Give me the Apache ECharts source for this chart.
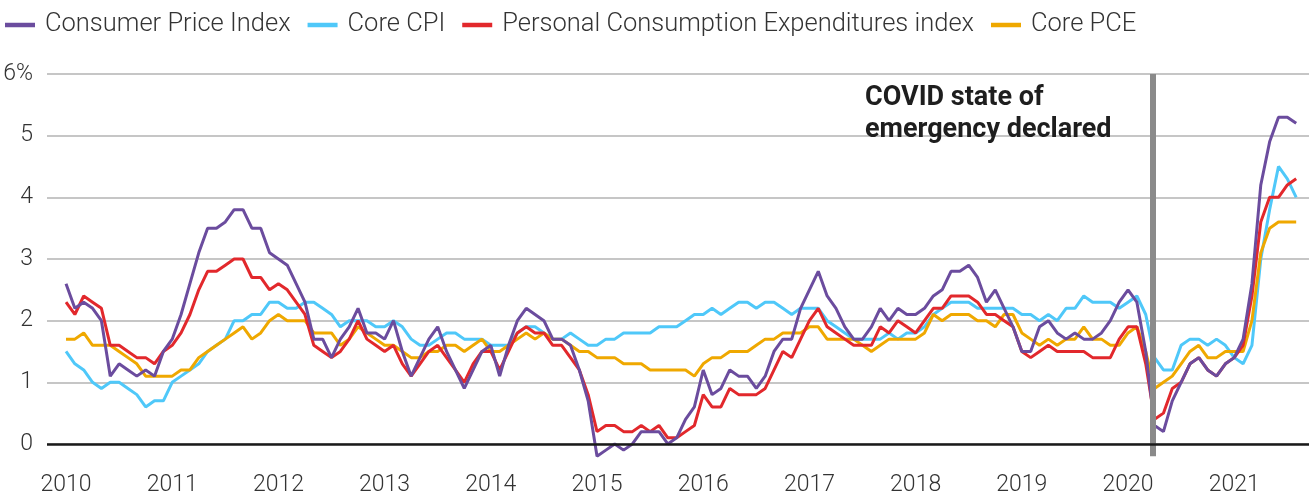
<!DOCTYPE html>
<html>
<head>
<meta charset="utf-8">
<script src="https://cdn.jsdelivr.net/npm/echarts@6/dist/echarts.min.js"></script>
<style>
  html, body { margin: 0; padding: 0; background: #fff; }
  #chart { width: 1309px; height: 501px; }
</style>
</head>
<body>
<div id="chart"></div>
<script>
// Monthly data, Jan 2010 .. Aug 2021 (year-over-year % change)
const startYear = 2010;
const cpi = [
  2.6, 2.2, 2.3, 2.2, 2.0, 1.1, 1.3, 1.2, 1.1, 1.2, 1.1, 1.5,
  1.7, 2.1, 2.6, 3.1, 3.5, 3.5, 3.6, 3.8, 3.8, 3.5, 3.5, 3.1,
  3.0, 2.9, 2.6, 2.3, 1.7, 1.7, 1.4, 1.7, 1.9, 2.2, 1.8, 1.8,
  1.7, 2.0, 1.5, 1.1, 1.4, 1.7, 1.9, 1.5, 1.2, 0.9, 1.2, 1.5,
  1.6, 1.1, 1.6, 2.0, 2.2, 2.1, 2.0, 1.7, 1.7, 1.6, 1.2, 0.7,
  -0.2, -0.1, 0.0, -0.1, 0.0, 0.2, 0.2, 0.2, 0.0, 0.1, 0.4, 0.6,
  1.2, 0.8, 0.9, 1.2, 1.1, 1.1, 0.9, 1.1, 1.5, 1.7, 1.7, 2.2,
  2.5, 2.8, 2.4, 2.2, 1.9, 1.7, 1.7, 1.9, 2.2, 2.0, 2.2, 2.1,
  2.1, 2.2, 2.4, 2.5, 2.8, 2.8, 2.9, 2.7, 2.3, 2.5, 2.2, 1.9,
  1.5, 1.5, 1.9, 2.0, 1.8, 1.7, 1.8, 1.7, 1.7, 1.8, 2.0, 2.3,
  2.5, 2.3, 1.5, 0.3, 0.2, 0.7, 1.0, 1.3, 1.4, 1.2, 1.1, 1.3,
  1.4, 1.7, 2.6, 4.2, 4.9, 5.3, 5.3, 5.2
];
const coreCpi = [
  1.5, 1.3, 1.2, 1.0, 0.9, 1.0, 1.0, 0.9, 0.8, 0.6, 0.7, 0.7,
  1.0, 1.1, 1.2, 1.3, 1.5, 1.6, 1.7, 2.0, 2.0, 2.1, 2.1, 2.3,
  2.3, 2.2, 2.2, 2.3, 2.3, 2.2, 2.1, 1.9, 2.0, 2.0, 2.0, 1.9,
  1.9, 2.0, 1.9, 1.7, 1.6, 1.6, 1.7, 1.8, 1.8, 1.7, 1.7, 1.7,
  1.6, 1.6, 1.6, 1.8, 1.9, 1.9, 1.8, 1.7, 1.7, 1.8, 1.7, 1.6,
  1.6, 1.7, 1.7, 1.8, 1.8, 1.8, 1.8, 1.9, 1.9, 1.9, 2.0, 2.1,
  2.1, 2.2, 2.1, 2.2, 2.3, 2.3, 2.2, 2.3, 2.3, 2.2, 2.1, 2.2,
  2.2, 2.2, 2.0, 1.9, 1.8, 1.7, 1.7, 1.7, 1.7, 1.8, 1.7, 1.8,
  1.8, 1.9, 2.1, 2.2, 2.3, 2.3, 2.3, 2.2, 2.2, 2.2, 2.2, 2.2,
  2.1, 2.1, 2.0, 2.1, 2.0, 2.2, 2.2, 2.4, 2.3, 2.3, 2.3, 2.2,
  2.3, 2.4, 2.1, 1.4, 1.2, 1.2, 1.6, 1.7, 1.7, 1.6, 1.7, 1.6,
  1.4, 1.3, 1.6, 3.0, 3.8, 4.5, 4.3, 4.0
];
const pce = [
  2.3, 2.1, 2.4, 2.3, 2.2, 1.6, 1.6, 1.5, 1.4, 1.4, 1.3, 1.5,
  1.6, 1.8, 2.1, 2.5, 2.8, 2.8, 2.9, 3.0, 3.0, 2.7, 2.7, 2.5,
  2.6, 2.5, 2.3, 2.1, 1.6, 1.5, 1.4, 1.5, 1.7, 2.0, 1.7, 1.6,
  1.5, 1.6, 1.3, 1.1, 1.3, 1.5, 1.6, 1.4, 1.2, 1.0, 1.3, 1.5,
  1.5, 1.2, 1.5, 1.8, 1.9, 1.8, 1.8, 1.6, 1.6, 1.4, 1.2, 0.8,
  0.2, 0.3, 0.3, 0.2, 0.2, 0.3, 0.2, 0.3, 0.1, 0.1, 0.2, 0.3,
  0.8, 0.6, 0.6, 0.9, 0.8, 0.8, 0.8, 0.9, 1.2, 1.5, 1.4, 1.7,
  2.0, 2.2, 1.9, 1.8, 1.7, 1.6, 1.6, 1.6, 1.9, 1.8, 2.0, 1.9,
  1.8, 2.0, 2.2, 2.2, 2.4, 2.4, 2.4, 2.3, 2.1, 2.1, 2.0, 1.9,
  1.5, 1.4, 1.5, 1.6, 1.5, 1.5, 1.5, 1.5, 1.4, 1.4, 1.4, 1.7,
  1.9, 1.9, 1.3, 0.4, 0.5, 0.9, 1.0, 1.3, 1.4, 1.2, 1.1, 1.3,
  1.4, 1.6, 2.4, 3.6, 4.0, 4.0, 4.2, 4.3
];
const corePce = [
  1.7, 1.7, 1.8, 1.6, 1.6, 1.6, 1.5, 1.4, 1.3, 1.1, 1.1, 1.1,
  1.1, 1.2, 1.2, 1.4, 1.5, 1.6, 1.7, 1.8, 1.9, 1.7, 1.8, 2.0,
  2.1, 2.0, 2.0, 2.0, 1.8, 1.8, 1.8, 1.6, 1.7, 1.9, 1.8, 1.7,
  1.6, 1.6, 1.5, 1.4, 1.4, 1.5, 1.5, 1.6, 1.6, 1.5, 1.6, 1.7,
  1.5, 1.5, 1.6, 1.7, 1.8, 1.7, 1.8, 1.7, 1.7, 1.6, 1.5, 1.5,
  1.4, 1.4, 1.4, 1.3, 1.3, 1.3, 1.2, 1.2, 1.2, 1.2, 1.2, 1.1,
  1.3, 1.4, 1.4, 1.5, 1.5, 1.5, 1.6, 1.7, 1.7, 1.8, 1.8, 1.8,
  1.9, 1.9, 1.7, 1.7, 1.7, 1.7, 1.6, 1.5, 1.6, 1.7, 1.7, 1.7,
  1.7, 1.8, 2.1, 2.0, 2.1, 2.1, 2.1, 2.0, 2.0, 1.9, 2.1, 2.1,
  1.8, 1.7, 1.6, 1.7, 1.6, 1.7, 1.7, 1.9, 1.7, 1.7, 1.6, 1.6,
  1.8, 1.9, 1.5, 0.9, 1.0, 1.1, 1.3, 1.5, 1.6, 1.4, 1.4, 1.5,
  1.5, 1.5, 2.0, 3.1, 3.5, 3.6, 3.6, 3.6
];
const yearTicks = [2010, 2011, 2012, 2013, 2014, 2015, 2016, 2017, 2018, 2019, 2020, 2021];
const yTicks = [0, 1, 2, 3, 4, 5, 6];
const covidDate = 2020.23; // national emergency declared, March 2020
const names = ['Consumer Price Index', 'Core CPI', 'Personal Consumption Expenditures index', 'Core PCE'];
const colors = { cpi: '#6b4c9e', coreCpi: '#4fc8f9', pce: '#e2282c', corePce: '#efa800' };

const toPoints = arr => arr.map((v, i) => [startYear + i / 12, v]);
const FONT = 'Roboto';

const chart = echarts.init(document.getElementById('chart'), null, { renderer: 'canvas' });

function lineSeries(name, arr, color) {
  return {
    name, type: 'line', data: toPoints(arr), showSymbol: false, symbol: 'none',
    lineStyle: { width: 3, color }, itemStyle: { color }, z: 3, animation: false
  };
}

chart.setOption({
  animation: false,
  grid: { left: 47, right: 0, top: 74, bottom: 44.7 },
  legend: {
    left: 0, top: 7, itemWidth: 30, itemHeight: 4.5, itemGap: 17, icon: 'rect',
    data: names,
    textStyle: { fontFamily: FONT, fontWeight: 300, fontSize: 25.5, color: '#333', padding: [0, 0, 0, 5] }
  },
  xAxis: {
    type: 'value', min: 2009.821, max: 2021.704,
    axisLine: { show: false }, axisTick: { show: false }, splitLine: { show: false },
    axisLabel: {
      customValues: yearTicks, formatter: v => String(Math.round(v)),
      fontFamily: FONT, fontWeight: 300, fontSize: 23, color: '#333', margin: 17
    }
  },
  yAxis: {
    type: 'value', min: -0.2, max: 6,
    axisLine: { show: false },
    axisTick: { show: false, customValues: yTicks },
    splitLine: { show: true, lineStyle: { color: '#c6c6c6', width: 2 } },
    axisLabel: {
      customValues: yTicks, formatter: v => (v === 6 ? '6%' : String(v)),
      fontFamily: FONT, fontWeight: 300, fontSize: 23, color: '#333', margin: 14
    }
  },
  series: [
    {
      type: 'line', data: [], z: 1, silent: true,
      markLine: {
        silent: true, symbol: 'none', animation: false, label: { show: false },
        data: [
          { xAxis: covidDate, lineStyle: { color: '#8a8a8a', width: 6, type: 'solid' } },
          { yAxis: 0, lineStyle: { color: '#1a1a1a', width: 2.7, type: 'solid' } }
        ]
      }
    },
    lineSeries(names[1], coreCpi, colors.coreCpi),
    lineSeries(names[3], corePce, colors.corePce),
    lineSeries(names[2], pce, colors.pce),
    lineSeries(names[0], cpi, colors.cpi)
  ],
  graphic: [{
    type: 'text', left: 865, top: 82.5, silent: true, z: 100,
    style: {
      text: 'COVID state of\nemergency declared',
      fontFamily: FONT, fontWeight: 'bold', fontSize: 27, lineHeight: 32, fill: '#1e1e1e'
    }
  }]
});
</script>
</body>
</html>
